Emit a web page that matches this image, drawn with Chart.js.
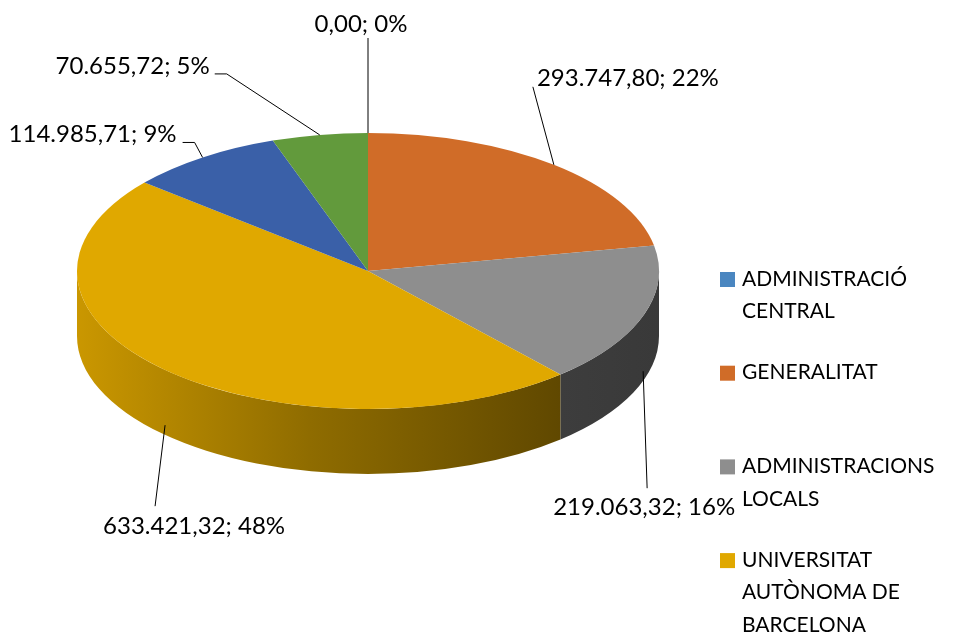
<!DOCTYPE html>
<html>
<head>
<meta charset="utf-8">
<script src="https://cdn.jsdelivr.net/npm/chart.js@4.4.1/dist/chart.umd.min.js"></script>
<style>
html,body{margin:0;padding:0;background:#fff;}
canvas{display:block;}
</style>
</head>
<body>
<canvas id="pieChart" width="953" height="640"></canvas>
<script>
/* =========================================================
DATA
========================================================= */

const categories = [
  ['ADMINISTRACIÓ', 'CENTRAL'],
  ['GENERALITAT'],
  ['ADMINISTRACIONS', 'LOCALS'],
  ['UNIVERSITAT', 'AUTÒNOMA DE', 'BARCELONA'],
  ['ALTRES ENTITATS'],
  ['ALTRES']
];

const amounts = [0.00, 293747.80, 219063.32, 633421.32, 114985.71, 70655.72];

/* =========================================================
STYLE
========================================================= */

const sliceColors = ['#4A86C0', '#D06C28', '#8E8E8E', '#E0A800', '#3A60A8', '#629A3C'];

const LABEL_FONT = '24px Lato';
const LEGEND_FONT = '21px Lato';

const TILT = 138 / 291;   // ellipse squash
const DEPTH = 65;         // side wall height
const LIFT = 49;          // top face raised above the layout centre

// leader end (dx,dy) from the slice anchor, optional horizontal tail, text offset from leader end
const labelLayout = [
  { dx: 0,   dy: -95, tail: 0,   tx: -7,  ty: -14, align: 'center' },
  { dx: -21, dy: -78, tail: 0,   tx: 4,   ty: -9,  align: 'left' },
  { dx: 4,   dy: 117, tail: 0,   tx: -3,  ty: 19,  align: 'center' },
  { dx: -10, dy: 81,  tail: 0,   tx: 39,  ty: 20,  align: 'center' },
  { dx: -8,  dy: -15, tail: -12, tx: -18, ty: -8,  align: 'right' },
  { dx: -93, dy: -61, tail: -12, tx: -17, ty: -8,  align: 'right' }
];

const LEGEND_X = 720;
const LEGEND_TOP = 272;
const LEGEND_STEP = 93.7;
const LEGEND_LINE = 32.5;

/* =========================================================
HELPERS
========================================================= */

function fmt(v) {
  const parts = v.toFixed(2).split('.');
  return parts[0].replace(/\B(?=(\d{3})+(?!\d))/g, '.') + ',' + parts[1];
}

function shade(hex, f) {
  const n = parseInt(hex.slice(1), 16);
  const r = Math.round(((n >> 16) & 255) * f);
  const g = Math.round(((n >> 8) & 255) * f);
  const b = Math.round((n & 255) * f);
  return 'rgb(' + r + ',' + g + ',' + b + ')';
}

function geom(arc) {
  return {
    cx: arc.x,
    cy: arc.y - LIFT,
    rx: arc.outerRadius,
    ry: arc.outerRadius * TILT,
    baseY: arc.y
  };
}

/* =========================================================
3D PIE PLUGIN
========================================================= */

const pie3d = {
  id: 'pie3d',

  beforeDatasetsDraw(chart) {
    const ctx = chart.ctx;
    const arcs = chart.getDatasetMeta(0).data;
    const g = geom(arcs[0]);
    const colors = chart.data.datasets[0].backgroundColor;

    // side walls of the front half
    arcs.forEach((arc, i) => {
      const s = Math.max(arc.startAngle, 0);
      const e = Math.min(arc.endAngle, Math.PI);
      if (e <= s) return;

      const grad = ctx.createLinearGradient(g.cx - g.rx, 0, g.cx + g.rx, 0);
      grad.addColorStop(0, shade(colors[i], 0.9));
      grad.addColorStop(0.4, shade(colors[i], 0.64));
      grad.addColorStop(0.83, shade(colors[i], 0.43));
      grad.addColorStop(1, shade(colors[i], 0.4));

      ctx.beginPath();
      ctx.ellipse(g.cx, g.cy, g.rx, g.ry, 0, s, e);
      ctx.ellipse(g.cx, g.cy + DEPTH, g.rx, g.ry, 0, e, s, true);
      ctx.closePath();
      ctx.fillStyle = grad;
      ctx.fill();
    });

    // squash the top face into an ellipse
    ctx.save();
    ctx.translate(0, g.cy);
    ctx.scale(1, TILT);
    ctx.translate(0, -g.baseY);
  },

  afterDatasetsDraw(chart) {
    chart.ctx.restore();
  },

  afterDraw(chart) {
    const ctx = chart.ctx;
    const arcs = chart.getDatasetMeta(0).data;
    const g = geom(arcs[0]);
    const data = chart.data.datasets[0].data;
    const colors = chart.data.datasets[0].backgroundColor;
    const total = data.reduce((a, b) => a + b, 0);

    /* ---------- data labels ---------- */
    ctx.save();
    ctx.font = LABEL_FONT;
    ctx.fillStyle = '#000';
    ctx.strokeStyle = '#000';
    ctx.lineWidth = 1;
    ctx.textBaseline = 'middle';

    arcs.forEach((arc, i) => {
      const mid = (arc.startAngle + arc.endAngle) / 2;
      let ax = g.cx + g.rx * Math.cos(mid);
      let ay = g.cy + g.ry * Math.sin(mid);
      if (Math.sin(mid) > 0) ay += DEPTH * 0.85;

      const L = labelLayout[i];
      const ex = ax + L.dx;
      const ey = ay + L.dy;

      ctx.beginPath();
      ctx.moveTo(ax, ay);
      ctx.lineTo(ex, ey);
      if (L.tail) ctx.lineTo(ex + L.tail, ey);
      ctx.stroke();

      const text = fmt(data[i]) + '; ' + Math.round(data[i] / total * 100) + '%';
      ctx.textAlign = L.align;
      ctx.fillText(text, ex + L.tx, ey + L.ty);
    });

    /* ---------- legend ---------- */
    ctx.font = LEGEND_FONT;
    ctx.textAlign = 'left';
    chart.data.labels.forEach((lines, i) => {
      const top = LEGEND_TOP + i * LEGEND_STEP;
      ctx.fillStyle = colors[i];
      ctx.fillRect(LEGEND_X, top, 15, 15);
      ctx.fillStyle = '#000';
      lines.forEach((line, k) => {
        ctx.fillText(line, LEGEND_X + 22, top + 7 + k * LEGEND_LINE);
      });
    });

    ctx.restore();
  }
};

/* =========================================================
CHART
========================================================= */

new Chart(document.getElementById('pieChart'), {
  type: 'pie',
  data: {
    labels: categories,
    datasets: [{
      data: amounts,
      backgroundColor: sliceColors,
      borderWidth: 0
    }]
  },
  options: {
    responsive: false,
    animation: false,
    events: [],
    layout: {
      padding: { left: 77, right: 294, top: 29, bottom: 29 }
    },
    plugins: {
      legend: { display: false },
      tooltip: { enabled: false }
    }
  },
  plugins: [pie3d]
});
</script>
</body>
</html>
